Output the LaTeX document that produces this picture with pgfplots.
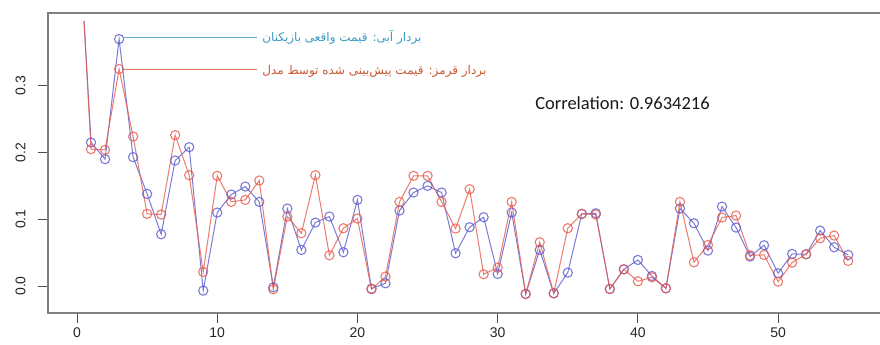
\documentclass[border=0pt]{standalone}
\usepackage{pgfplots}
\pgfplotsset{compat=1.18}
\usepackage{fontspec}
\setmainfont{Liberation Sans}
\newfontfamily\arabicfont[Script=Arabic]{DejaVu Sans}
\newfontfamily\calib{Carlito}
\TeXXeTstate=1
\definecolor{bl}{RGB}{90,90,205}
\definecolor{rd}{RGB}{230,90,75}
\definecolor{blt}{RGB}{60,155,195}
\definecolor{rdt}{RGB}{200,90,50}
\definecolor{bll}{RGB}{100,175,210}
\definecolor{rdl}{RGB}{225,120,85}
\pgfplotstableread{
x blue red
1 0.215 0.205
2 0.190 0.204
3 0.370 0.325
4 0.193 0.224
5 0.138 0.108
6 0.0775 0.107
7 0.188 0.226
8 0.208 0.166
9 -0.007 0.021
10 0.110 0.165
11 0.137 0.126
12 0.149 0.129
13 0.126 0.158
14 -0.002 -0.005
15 0.116 0.104
16 0.054 0.079
17 0.095 0.166
18 0.104 0.046
19 0.0505 0.0865
20 0.129 0.101
21 -0.004 -0.005
22 0.004 0.014
23 0.113 0.126
24 0.140 0.165
25 0.150 0.165
26 0.140 0.126
27 0.049 0.086
28 0.088 0.145
29 0.103 0.0175
30 0.018 0.0275
31 0.110 0.126
32 -0.012 -0.012
33 0.054 0.0655
34 -0.011 -0.011
35 0.020 0.0865
36 0.108 0.108
37 0.109 0.107
38 -0.0045 -0.0045
39 0.025 0.025
40 0.039 0.007
41 0.015 0.013
42 -0.0035 -0.0035
43 0.116 0.126
44 0.094 0.0355
45 0.053 0.0615
46 0.119 0.1025
47 0.0875 0.1055
48 0.044 0.046
49 0.061 0.0465
50 0.019 0.0065
51 0.048 0.035
52 0.0475 0.0475
53 0.083 0.0715
54 0.058 0.0755
55 0.0465 0.0375
}\datatable
\begin{document}
\begin{tikzpicture}[x=1pt,y=1pt]
\useasboundingbox (0,0) rectangle (880,345);
\begin{axis}[
  at={(48pt,32pt)}, anchor=south west,
  scale only axis, width=833pt, height=300pt,
  xmin=-2.07, xmax=57.34, ymin=-0.0405, ymax=0.409,
  axis line style={draw=black!50, line width=1.2pt},
  tick align=outside, major tick length=10pt,
  tick style={black!70, line width=0.8pt},
  xtick={0,10,20,30,40,50}, ytick={0,0.1,0.2,0.3},
  xtick pos=bottom, ytick pos=left,
  /pgf/number format/assume math mode=true,
  ticklabel style={font=\fontsize{14}{16}\selectfont, text=black!85},
  xticklabel style={yshift=-4pt, inner sep=1pt},
  yticklabel style={rotate=90, anchor=south, yshift=9pt,
     /pgf/number format/.cd, fixed, fixed zerofill, precision=1},
  clip=false,
]
\addplot[bl, line width=1pt, opacity=0.8, no marks] coordinates {(0.5,0.397) (1,0.215)};
\addplot[rd, line width=1pt, opacity=0.8, no marks] coordinates {(0.5,0.397) (1,0.205)};
\addplot[bl, line width=1pt, opacity=0.8, mark=o, mark size=4.6pt, mark options={line width=1.1pt}] table[x=x, y=blue] {\datatable};
\addplot[rd, line width=1pt, opacity=0.8, mark=o, mark size=4.6pt, mark options={line width=1.1pt}] table[x=x, y=red] {\datatable};
\draw[bll, line width=0.9pt] (axis cs:3.35,0.372) -- (axis cs:12.84,0.372);
\draw[rdl, line width=0.9pt] (axis cs:3.35,0.325) -- (axis cs:12.84,0.325);
\node[anchor=west, inner sep=0pt, text=blt, font=\arabicfont\fontsize{12}{14}\selectfont] at (axis cs:13.2,0.372) {\beginR بردار آبی: قیمت واقعی بازیکنان\endR};
\node[anchor=west, inner sep=0pt, text=rdt, font=\arabicfont\fontsize{12}{14}\selectfont] at (axis cs:13.2,0.322) {\beginR بردار قرمز: قیمت پیش‌بینی شده توسط مدل\endR};
\node[text=black!90, font=\calib\fontsize{18.5}{20}\selectfont] at (axis cs:38.9,0.274) {Correlation: 0.9634216};
\end{axis}
\end{tikzpicture}
\end{document}
